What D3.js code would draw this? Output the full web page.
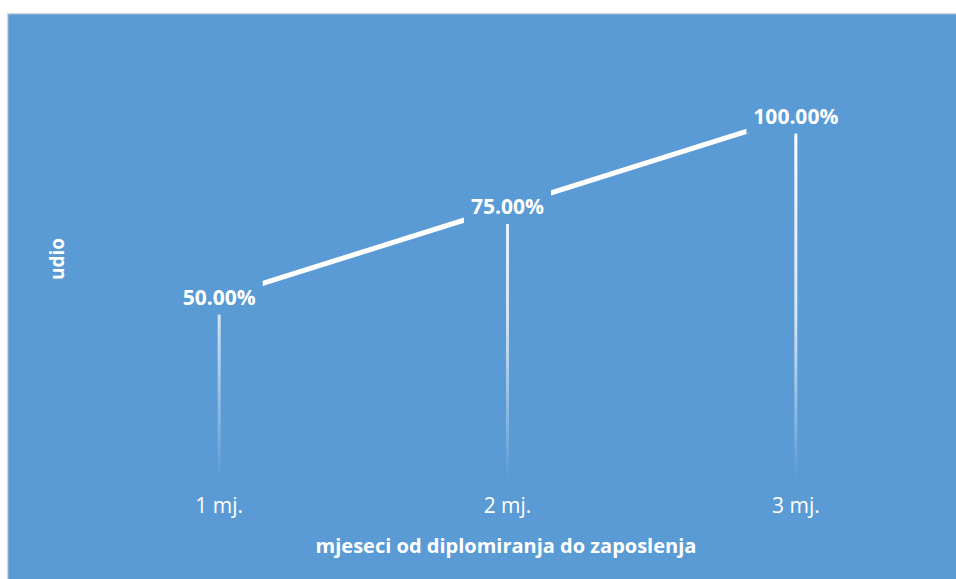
<!DOCTYPE html>
<html>
<head>
<meta charset="utf-8">
<script src="https://cdn.jsdelivr.net/npm/d3@7"></script>
<style>
  body { margin: 0; background: #fff; }
  svg { display: block; font-family: "Open Sans", sans-serif; }
</style>
</head>
<body>
<div id="chart"></div>
<script>
// chart data
const categories = ["1 mj.", "2 mj.", "3 mj."];
const shares = [0.50, 0.75, 1.00];
const xTitle = "mjeseci od diplomiranja do zaposlenja";
const yTitle = "udio";

const width = 956, height = 579;
const bg = "#5B9BD5";

const svg = d3.select("#chart").append("svg")
  .attr("width", width)
  .attr("height", height);

// chart area with thin grey border
svg.append("rect")
  .attr("x", 7.5).attr("y", 13.5)
  .attr("width", width).attr("height", height)
  .attr("fill", bg)
  .attr("stroke", "#D9D9D9")
  .attr("stroke-width", 1.5);

const data = categories.map((c, i) => ({cat: c, val: shares[i]}));

// scales
const x = d3.scaleBand()
  .domain(categories)
  .range([75, 940]);
const y = d3.scaleLinear()
  .domain([0, 1])
  .range([478, 116]);
const cx = d => x(d.cat) + x.bandwidth() / 2;

// gradient for drop lines
const defs = svg.append("defs");
const grad = defs.append("linearGradient")
  .attr("id", "dropGrad")
  .attr("gradientUnits", "userSpaceOnUse")
  .attr("x1", 0).attr("x2", 0)
  .attr("y1", y(1)).attr("y2", y(0));
grad.append("stop").attr("offset", "0%").attr("stop-color", "#fff").attr("stop-opacity", 1);
grad.append("stop").attr("offset", "55%").attr("stop-color", "#fff").attr("stop-opacity", 0.75);
grad.append("stop").attr("offset", "100%").attr("stop-color", "#fff").attr("stop-opacity", 0);

// drop lines
svg.append("g").selectAll("line")
  .data(data)
  .enter().append("line")
  .attr("x1", cx).attr("x2", cx)
  .attr("y1", d => y(d.val)).attr("y2", y(0))
  .attr("stroke", "url(#dropGrad)")
  .attr("stroke-width", 3);

// main line
const line = d3.line()
  .x(cx)
  .y(d => y(d.val));
svg.append("path")
  .datum(data)
  .attr("d", line)
  .attr("fill", "none")
  .attr("stroke", "#fff")
  .attr("stroke-width", 5);

// data labels with background box
const fmt = d3.format(".2%");
const labels = svg.append("g").selectAll("g")
  .data(data)
  .enter().append("g")
  .attr("transform", d => `translate(${cx(d)},${y(d.val)})`);
labels.append("rect")
  .attr("fill", bg);
labels.append("text")
  .attr("text-anchor", "middle")
  .attr("dy", "0.36em")
  .attr("fill", "#fff")
  .attr("font-size", 21)
  .attr("font-weight", "bold")
  .text(d => fmt(d.val));
labels.each(function() {
  const g = d3.select(this);
  const b = g.select("text").node().getBBox();
  g.select("rect")
    .attr("x", b.x - 7).attr("y", b.y - 5)
    .attr("width", b.width + 14).attr("height", b.height + 9);
});

// x axis (labels only)
const xAxis = d3.axisBottom(x).tickSize(0).tickPadding(0);
const gx = svg.append("g")
  .attr("transform", "translate(0,497)")
  .call(xAxis);
gx.select(".domain").remove();
gx.selectAll("text")
  .attr("fill", "#fff")
  .attr("font-size", 21)
  .attr("font-family", "Open Sans, sans-serif")
  .attr("dy", "0.75em");

// axis titles
svg.append("text")
  .attr("x", 506).attr("y", 553)
  .attr("text-anchor", "middle")
  .attr("fill", "#fff")
  .attr("font-size", 20)
  .attr("font-weight", "bold")
  .text(xTitle);

svg.append("text")
  .attr("transform", "translate(64,259) rotate(-90)")
  .attr("text-anchor", "middle")
  .attr("fill", "#fff")
  .attr("font-size", 19)
  .attr("font-weight", "bold")
  .text(yTitle);
</script>
</body>
</html>
